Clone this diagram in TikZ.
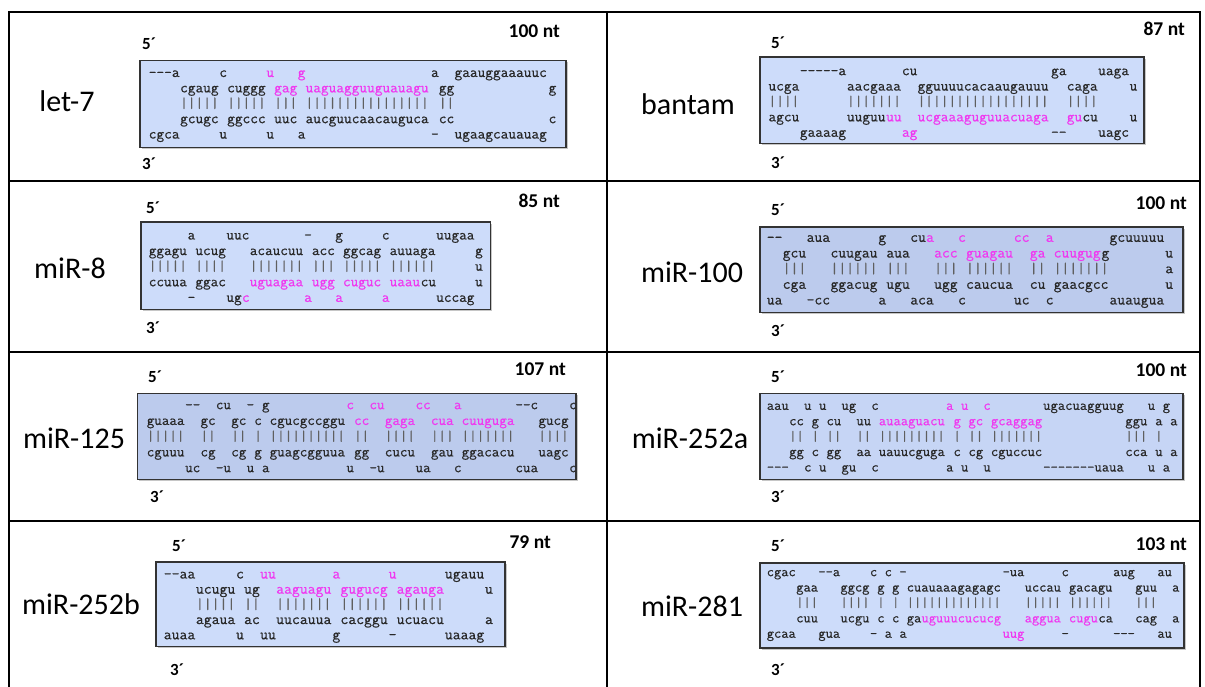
\documentclass[tikz,border=0pt]{standalone}
\usepackage{fontspec}
\setmainfont{Carlito}
\newfontfamily\seqmono{Latin Modern Mono}[FakeBold=0.6]
\definecolor{boxA}{RGB}{205,220,250}
\definecolor{boxB}{RGB}{188,203,237}
\definecolor{boxC}{RGB}{198,213,245}
\definecolor{mag}{RGB}{240,56,240}
\definecolor{seqc}{RGB}{40,40,40}
\definecolor{barc}{RGB}{95,95,95}
\newcounter{tokc}
\def\bx{0}\def\by{0}\def\pw{7.8}\def\lh{15.4}\def\fs{14.9}
\newcommand\seqsetup[4]{\def\bx{#1}\def\by{#2}\def\pw{#3}\def\lh{#4}\pgfmathsetmacro\fs{#3/0.525}}
\newcommand\seqfont{\seqmono\fontsize{\fs pt}{\fs pt}\selectfont}
\newcommand\hy{\mbox{-}}
\newcommand\tk[3]{\stepcounter{tokc}\node[seq] (q\arabic{tokc}) at ({\bx+#2*\pw},{\by+(#1-1)*\lh}) {#3};}
\newcommand\tm[3]{\stepcounter{tokc}\node[seq,text=mag] (q\arabic{tokc}) at ({\bx+#2*\pw},{\by+(#1-1)*\lh}) {#3};}
\newcommand\tb[3]{\stepcounter{tokc}\node[seq,text=barc] (q\arabic{tokc}) at ({\bx+#2*\pw},{\by+(#1-1)*\lh}) {#3};}
\newcommand\seqbox[5]{\fill[gray!45] (#1+1.6,#2+1.6) rectangle (#3+1.6,#4+1.6);
  \filldraw[fill=#5,draw=black!80,line width=1.2pt] (#1,#2) rectangle (#3,#4);}
\begin{document}
\begin{tikzpicture}[x=1pt,y=-1pt,
  seq/.style={anchor=base west,inner sep=0pt,outer sep=0pt,font=\seqfont,text=seqc},
  lab/.style={inner sep=0pt,font=\fontsize{30}{30}\selectfont},
  ntl/.style={anchor=east,inner sep=0pt,font=\bfseries\fontsize{19.5}{19.5}\selectfont},
  pr/.style={anchor=west,inner sep=0pt,font=\bfseries\fontsize{17}{17}\selectfont},
  grid/.style={line width=2pt,black}]
\useasboundingbox (0,0) rectangle (1205,687);
\fill[white] (0,0) rectangle (1205,687);
% frame
\draw[grid] (9,687) -- (9,12) -- (1200,12) -- (1200,687);
\draw[grid] (607,12) -- (607,687);
\draw[grid] (9,181) -- (1200,181);
\draw[grid] (9,352) -- (1200,352);
\draw[grid] (9,521) -- (1200,521);

% ---------------- let-7
\node[lab] (l1) at (67,101) {let-7};
\node[ntl] (n1) at (560,31) {100 nt};
\node[pr] (f1) at (142,44) {5´};
\node[pr] (t1) at (142,164) {3´};
\seqbox{140}{60.5}{566}{147.5}{boxA}
\seqsetup{148.8}{77}{7.84}{15.4}
\tk{1}{0}{\hy\hy\hy a}\tk{1}{9}{c}\tm{1}{15}{u}\tm{1}{19}{g}\tk{1}{36}{a}\tk{1}{39}{gaauggaaauuc}
\tk{2}{4}{cgaug}\tk{2}{10}{cuggg}\tm{2}{16}{gag}\tm{2}{20}{uaguagguuguauagu}\tk{2}{37}{gg}\tk{2}{51}{g}
\tb{3}{4}{|||||}\tb{3}{10}{|||||}\tb{3}{16}{|||}\tb{3}{20}{||||||||||||||||}\tb{3}{37}{||}
\tk{4}{4}{gcugc}\tk{4}{10}{ggccc}\tk{4}{16}{uuc}\tk{4}{20}{aucguucaacauguca}\tk{4}{37}{cc}\tk{4}{51}{c}
\tk{5}{0}{cgca}\tk{5}{9}{u}\tk{5}{15}{u}\tk{5}{19}{a}\tk{5}{36}{\hy}\tk{5}{39}{ugaagcauauag}

% ---------------- bantam
\node[lab] (l2) at (688,104) {bantam};
\node[ntl] (n2) at (1185,29) {87 nt};
\node[pr] (f2) at (771,43) {5´};
\node[pr] (t2) at (771,163) {3´};
\seqbox{760}{57}{1144}{143.5}{boxA}
\seqsetup{768.5}{75.2}{7.85}{15.4}
\tk{1}{4}{\hy\hy\hy\hy\hy a}\tk{1}{17}{cu}\tk{1}{36}{ga}\tk{1}{42}{uaga}
\tk{2}{0}{ucga}\tk{2}{10}{aacgaaa}\tk{2}{19}{gguuuucacaaugauuu}\tk{2}{38}{caga}\tk{2}{46}{u}
\tb{3}{0}{||||}\tb{3}{10}{|||||||}\tb{3}{19}{|||||||||||||||||}\tb{3}{38}{||||}
\tk{4}{0}{agcu}\tk{4}{10}{uuguu}\tm{4}{15}{uu}\tm{4}{19}{ucgaaaguguuacuaga}\tm{4}{38}{gu}\tk{4}{40}{cu}\tk{4}{46}{u}
\tk{5}{4}{gaaaag}\tm{5}{17}{ag}\tk{5}{36}{\hy\hy}\tk{5}{42}{uagc}

% ---------------- miR-8
\node[lab] (l3) at (70,268) {miR-8};
\node[ntl] (n3) at (560,201) {85 nt};
\node[pr] (f3) at (146,208) {5´};
\node[pr] (t3) at (146,328) {3´};
\seqbox{141}{222}{490.5}{309.5}{boxA}
\seqsetup{148.8}{239.5}{7.77}{15.6}
\tk{1}{5}{a}\tk{1}{10}{uuc}\tk{1}{20}{\hy}\tk{1}{24}{g}\tk{1}{30}{c}\tk{1}{37}{uugaa}
\tk{2}{0}{ggagu}\tk{2}{6}{ucug}\tk{2}{13}{acaucuu}\tk{2}{21}{acc}\tk{2}{25}{ggcag}\tk{2}{31}{auuaga}\tk{2}{42}{g}
\tb{3}{0}{|||||}\tb{3}{6}{||||}\tb{3}{13}{|||||||}\tb{3}{21}{|||}\tb{3}{25}{|||||}\tb{3}{31}{||||||}\tk{3}{42}{u}
\tk{4}{0}{ccuua}\tk{4}{6}{ggac}\tm{4}{13}{uguagaa}\tm{4}{21}{ugg}\tm{4}{25}{cuguc}\tm{4}{31}{uaau}\tk{4}{35}{cu}\tk{4}{42}{u}
\tk{5}{5}{\hy}\tk{5}{10}{ug}\tm{5}{12}{c}\tm{5}{20}{a}\tm{5}{24}{a}\tm{5}{30}{a}\tk{5}{37}{uccag}

% ---------------- miR-100
\node[lab] (l4) at (692,272) {miR-100};
\node[ntl] (n4) at (1187,203) {100 nt};
\node[pr] (f4) at (771,210) {5´};
\node[pr] (t4) at (771,331) {3´};
\seqbox{760}{227}{1183}{312.5}{boxB}
\seqsetup{766.8}{241.9}{7.97}{15.65}
\tk{1}{0}{\hy\hy}\tk{1}{5}{aua}\tk{1}{14}{g}\tk{1}{18}{cu}\tm{1}{20}{a}\tm{1}{24}{c}\tm{1}{31}{cc}\tm{1}{35}{a}\tk{1}{43}{gcuuuuu}
\tk{2}{2}{gcu}\tk{2}{8}{cuugau}\tk{2}{15}{aua}\tm{2}{21}{acc}\tm{2}{25}{guagau}\tm{2}{33}{ga}\tm{2}{36}{cuugug}\tk{2}{42}{g}\tk{2}{50}{u}
\tb{3}{2}{|||}\tb{3}{8}{||||||}\tb{3}{15}{|||}\tb{3}{21}{|||}\tb{3}{25}{||||||}\tb{3}{33}{||}\tb{3}{36}{|||||||}\tk{3}{50}{a}
\tk{4}{2}{cga}\tk{4}{8}{ggacug}\tk{4}{15}{ugu}\tk{4}{21}{ugg}\tk{4}{25}{caucua}\tk{4}{33}{cu}\tk{4}{36}{gaacgcc}\tk{4}{50}{u}
\tk{5}{0}{ua}\tk{5}{5}{\hy cc}\tk{5}{14}{a}\tk{5}{18}{aca}\tk{5}{24}{c}\tk{5}{31}{uc}\tk{5}{35}{c}\tk{5}{43}{auaugua}

% ---------------- miR-125
\node[lab] (l5) at (74,438) {miR-125};
\node[ntl] (n5) at (566,369) {107 nt};
\node[pr] (f5) at (148,377) {5´};
\node[pr] (t5) at (150,497) {3´};
\seqbox{137.5}{393.5}{576}{479.5}{boxB}
\begin{scope}
\clip (138.2,394.2) rectangle (575.3,478.8);
\seqsetup{146.8}{409.2}{7.68}{15.75}
\tk{1}{5}{\hy\hy}\tk{1}{9}{cu}\tk{1}{13}{\hy}\tk{1}{15}{g}\tm{1}{26}{c}\tm{1}{29}{cu}\tm{1}{35}{cc}\tm{1}{40}{a}\tk{1}{48}{\hy\hy c}\tk{1}{55}{c}
\tk{2}{0}{guaaa}\tk{2}{7}{gc}\tk{2}{11}{gc}\tk{2}{14}{c}\tk{2}{16}{cgucgccggu}\tm{2}{27}{cc}\tm{2}{31}{gaga}\tm{2}{37}{cua}\tm{2}{41}{cuuguga}\tk{2}{51}{gucg}\tk{2}{56}{g}
\tb{3}{0}{|||||}\tb{3}{7}{||}\tb{3}{11}{||}\tb{3}{14}{|}\tb{3}{16}{||||||||||}\tb{3}{27}{||}\tb{3}{31}{||||}\tb{3}{37}{|||}\tb{3}{41}{|||||||}\tb{3}{51}{||||}\tb{3}{56}{|}
\tk{4}{0}{cguuu}\tk{4}{7}{cg}\tk{4}{11}{cg}\tk{4}{14}{g}\tk{4}{16}{guagcgguua}\tk{4}{27}{gg}\tk{4}{31}{cucu}\tk{4}{37}{gau}\tk{4}{41}{ggacacu}\tk{4}{51}{uagc}\tk{4}{56}{a}
\tk{5}{5}{uc}\tk{5}{9}{\hy u}\tk{5}{13}{u}\tk{5}{15}{a}\tk{5}{26}{u}\tk{5}{29}{\hy u}\tk{5}{35}{ua}\tk{5}{40}{c}\tk{5}{48}{cua}\tk{5}{55}{c}
\end{scope}

% ---------------- miR-252a
\node[lab] (l6) at (690,438) {miR-252a};
\node[ntl] (n6) at (1187,370) {100 nt};
\node[pr] (f6) at (771,377) {5´};
\node[pr] (t6) at (771,497) {3´};
\seqbox{760}{393.5}{1183}{479.5}{boxC}
\seqsetup{766.8}{409.9}{7.47}{15.4}
\tk{1}{0}{aau}\tk{1}{5}{u}\tk{1}{7}{u}\tk{1}{10}{ug}\tk{1}{14}{c}\tm{1}{24}{a}\tm{1}{26}{u}\tm{1}{29}{c}\tk{1}{37}{ugacuagguug}\tk{1}{51}{u}\tk{1}{53}{g}
\tk{2}{3}{cc}\tk{2}{6}{g}\tk{2}{8}{cu}\tk{2}{12}{uu}\tm{2}{15}{auaaguacu}\tm{2}{25}{g}\tm{2}{27}{gc}\tm{2}{30}{gcaggag}\tk{2}{48}{ggu}\tk{2}{52}{a}\tk{2}{54}{a}
\tb{3}{3}{||}\tb{3}{6}{|}\tb{3}{8}{||}\tb{3}{12}{||}\tb{3}{15}{|||||||||}\tb{3}{25}{|}\tb{3}{27}{||}\tb{3}{30}{|||||||}\tb{3}{48}{|||}\tb{3}{52}{|}
\tk{4}{3}{gg}\tk{4}{6}{c}\tk{4}{8}{gg}\tk{4}{12}{aa}\tk{4}{15}{uauucguga}\tk{4}{25}{c}\tk{4}{27}{cg}\tk{4}{30}{cguccuc}\tk{4}{48}{cca}\tk{4}{52}{u}\tk{4}{54}{a}
\tk{5}{0}{\hy\hy\hy}\tk{5}{5}{c}\tk{5}{7}{u}\tk{5}{10}{gu}\tk{5}{14}{c}\tk{5}{24}{a}\tk{5}{26}{u}\tk{5}{29}{u}\tk{5}{37}{\hy\hy\hy\hy\hy\hy\hy uaua}\tk{5}{51}{u}\tk{5}{53}{a}

% ---------------- miR-252b
\node[lab] (l7) at (81,604) {miR-252b};
\node[ntl] (n7) at (551,542) {79 nt};
\node[pr] (f7) at (172,546) {5´};
\node[pr] (t7) at (170,670) {3´};
\seqbox{156}{562}{505}{646.5}{boxA}
\seqsetup{163.8}{578.5}{8.03}{15.2}
\tk{1}{0}{\hy\hy aa}\tk{1}{9}{c}\tm{1}{12}{uu}\tm{1}{21}{a}\tm{1}{28}{u}\tk{1}{35}{ugauu}
\tk{2}{4}{ucugu}\tk{2}{10}{ug}\tm{2}{14}{aaguagu}\tm{2}{22}{gugucg}\tm{2}{29}{agauga}\tk{2}{40}{u}
\tb{3}{4}{|||||}\tb{3}{10}{||}\tb{3}{14}{|||||||}\tb{3}{22}{||||||}\tb{3}{29}{||||||}
\tk{4}{4}{agaua}\tk{4}{10}{ac}\tk{4}{14}{uucauua}\tk{4}{22}{cacggu}\tk{4}{29}{ucuacu}\tk{4}{40}{a}
\tk{5}{0}{auaa}\tk{5}{9}{u}\tk{5}{12}{uu}\tk{5}{21}{g}\tk{5}{28}{\hy}\tk{5}{35}{uaaag}

% ---------------- miR-281
\node[lab] (l8) at (692,606) {miR-281};
\node[ntl] (n8) at (1187,544) {103 nt};
\node[pr] (f8) at (771,546) {5´};
\node[pr] (t8) at (771,670) {3´};
\seqbox{760}{563}{1184}{648}{boxA}
\seqsetup{766.8}{576.2}{7.37}{15.4}
\tk{1}{0}{cgac}\tk{1}{7}{\hy\hy a}\tk{1}{14}{c}\tk{1}{16}{c}\tk{1}{18}{\hy}\tk{1}{32}{\hy ua}\tk{1}{40}{c}\tk{1}{47}{aug}\tk{1}{53}{au}
\tk{2}{4}{gaa}\tk{2}{10}{ggcg}\tk{2}{15}{g}\tk{2}{17}{g}\tk{2}{19}{cuauaaagagagc}\tk{2}{35}{uccau}\tk{2}{41}{gacagu}\tk{2}{50}{guu}\tk{2}{55}{a}
\tb{3}{4}{|||}\tb{3}{10}{||||}\tb{3}{15}{|}\tb{3}{17}{|}\tb{3}{19}{|||||||||||||}\tb{3}{35}{|||||}\tb{3}{41}{||||||}\tb{3}{50}{|||}
\tk{4}{4}{cuu}\tk{4}{10}{ucgu}\tk{4}{15}{c}\tk{4}{17}{c}\tk{4}{19}{ga}\tm{4}{21}{uguuucucucg}\tm{4}{35}{aggua}\tm{4}{41}{cugu}\tk{4}{45}{ca}\tk{4}{50}{cag}\tk{4}{55}{a}
\tk{5}{0}{gcaa}\tk{5}{7}{gua}\tk{5}{14}{\hy}\tk{5}{16}{a}\tk{5}{18}{a}\tm{5}{32}{uug}\tk{5}{40}{\hy}\tk{5}{47}{\hy\hy\hy}\tk{5}{53}{au}
\end{tikzpicture}
\end{document}
